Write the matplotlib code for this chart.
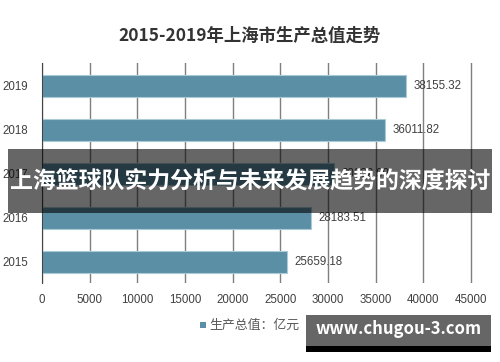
import matplotlib.pyplot as plt
from matplotlib.patches import Rectangle

plt.rcParams['font.family'] = ['Noto Sans CJK SC', 'DejaVu Sans']

# 上海市生产总值（亿元）
years = ['2015', '2016', '2017', '2018', '2019']
gdp = [25659.18, 28183.51, 30632.99, 36011.82, 38155.32]
value_labels = ['25659.18', '28183.51', '30632.99', '36011.82', '38155.32']
xticks = [0, 5000, 10000, 15000, 20000, 25000, 30000, 35000, 40000, 45000]

title = '2015-2019年上海市生产总值走势'
legend_text = '生产总值：亿元'
banner = '上海篮球队实力分析与未来发展趋势的深度探讨'
watermark = 'www.chugou-3.com'

BAR = '#5b8fa6'


def plot_data():
    fig = plt.figure(figsize=(5, 3.62), dpi=100)
    ax = fig.add_axes([0.084, 0.218, 0.876, 0.608])

    pos = range(len(years))
    ax.barh(pos, gdp, height=0.5, color=BAR, edgecolor='#a9cbd8',
            linewidth=0.8, zorder=3)
    for p, v, lab in zip(pos, gdp, value_labels):
        ax.text(v + 800, p, lab, va='center', ha='left', fontsize=8.3,
                color='#404040', family=['Liberation Sans', 'DejaVu Sans'],
                zorder=4)

    ax.set_xlim(0, 45950)
    ax.set_ylim(-0.48, 4.52)
    ax.set_xticks(xticks)
    ax.set_xticklabels([str(t) for t in xticks],
                       family=['Liberation Sans', 'DejaVu Sans'])
    ax.set_yticks(list(pos))
    ax.set_yticklabels(years, family=['Liberation Sans', 'DejaVu Sans'])
    ax.tick_params(axis='both', length=0, labelsize=8.3, colors='#404040')
    ax.tick_params(axis='x', pad=8)
    ax.tick_params(axis='y', pad=10)
    ax.grid(axis='x', color='#7f7f7f', linewidth=1.0, zorder=0)
    for side in ['top', 'right', 'bottom']:
        ax.spines[side].set_visible(False)
    ax.spines['left'].set_color('#444444')
    ax.spines['left'].set_zorder(5)

    fig.text(0.5, 0.9, title, ha='center', va='center', fontsize=12.5,
             fontweight='bold', color='#333333')

    # 图例
    fig.patches.append(Rectangle((0.399, 0.093), 0.013, 0.018,
                                 transform=fig.transFigure,
                                 facecolor=BAR, edgecolor='none'))
    fig.text(0.418, 0.102, legend_text, ha='left', va='center', fontsize=9.3,
             color='#595959')

    # 横幅
    fig.patches.append(Rectangle((0.016, 0.412), 0.968, 0.177,
                                 transform=fig.transFigure,
                                 facecolor='black', alpha=0.6,
                                 edgecolor='none', zorder=10))
    fig.text(0.5, 0.5, banner, ha='center', va='center', fontsize=16.5,
             fontweight='bold', color='white', zorder=11)

    # 水印
    fig.patches.append(Rectangle((0.612, 0.028), 0.37, 0.102,
                                 transform=fig.transFigure,
                                 facecolor='#666666', edgecolor='none',
                                 zorder=10))
    fig.patches.append(Rectangle((0.612, 0.028), 0.37, 0.017,
                                 transform=fig.transFigure,
                                 facecolor='black', edgecolor='none',
                                 zorder=10))
    fig.text(0.797, 0.09, watermark, ha='center', va='center', fontsize=12,
             fontweight='bold', color='white', zorder=11)

    fig.savefig('out.png', dpi=100)


def main():
    plot_data()


main()
